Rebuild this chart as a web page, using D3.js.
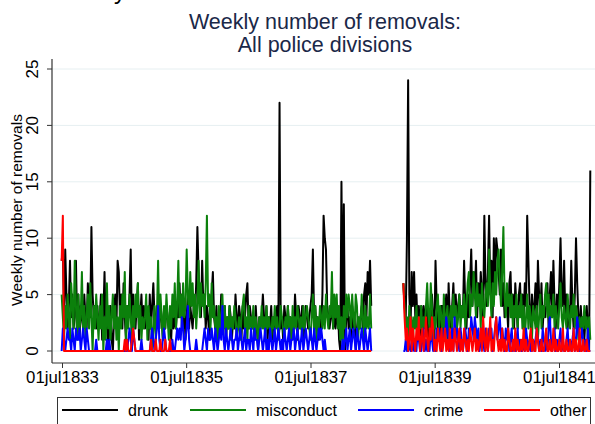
<!DOCTYPE html>
<html>
<head>
<meta charset="utf-8">
<script src="https://cdn.jsdelivr.net/npm/d3@7"></script>
<style>
  body { margin: 0; background: #fff; }
  svg { display: block; }
  text { font-family: "Liberation Sans", Arial, sans-serif; }
</style>
</head>
<body>
<div id="chart"></div>
<script>
// Weekly counts, two periods (weekly from 29jun1833 and from 29dec1838)
const start1 = new Date(1833, 5, 29);
const start2 = new Date(1838, 11, 29);

const drunk1 = [8,9,3,9,5,2,4,8,3,5, 2,3,8,2,5,1,4,3,2,5, 3,2,6,4,3,11,5,3,4,2, 4,2,3,5,1,3,7,2,3,0,
  2,4,1,0,3,5,2,8,7,3, 5,2,6,3,1,4,3,5,9,2, 5,3,2,4,6,1,3,5,2,4, 2,4,3,1,5,2,4,6,3,2,
  4,3,2,4,3,1,3,2,4,3, 2,3,1,4,2,3,2,4,3,6, 3,5,2,4,1,3,5,2,4,3, 2,4,3,6,11,7,5,3,8,4,
  5,2,4,3,1,3,5,7,3,2, 4,1,3,2,5,3,2,4,1,3, 2,4,3,1,3,2,5,3,2,4, 3,1,4,2,3,5,6,2,4,3,
  2,3,1,4,2,0,3,2,3,5, 3,2,4,1,3,2,4,1,3,2, 3,4,2,22,2,3,1,4,3,2, 4,2,3,1,3,2,5,3,1,4,
  3,2,4,1,2,4,3,2,3,4, 5,9,3,4,2,3,1,3,2,5, 12,10,9,4,3,2,3,4,2,3, 2,3,4,1,0,15,2,13,0,3,
  4,2,3,1,4,2,3,0,2,3, 2,3,4,2,5,6,3,7,5,8,4];
const misconduct1 = [5,3,1,4,2,5,3,1,6,4, 2,8,4,1,5,2,3,7,2,4, 1,3,5,2,6,3,0,4,2,5, 3,1,4,2,5,0,3,1,6,2,
  4,1,3,5,2,4,1,3,0,4, 2,5,3,7,1,4,2,5,3,1, 4,2,5,3,6,2,4,1,3,2, 3,5,1,4,2,3,0,2,4,1,
  3,8,2,5,3,1,4,2,5,3, 1,4,2,5,3,6,2,4,8,3, 5,2,6,3,4,9,5,3,7,4, 6,3,5,2,4,8,3,6,4,5,
  3,6,12,4,5,2,6,3,4,2, 3,1,4,2,3,5,2,4,1,3, 2,4,1,3,2,4,3,1,2,3, 1,3,4,5,2,3,1,4,2,3,
  2,4,1,3,2,1,3,2,4,2, 3,1,4,2,3,2,1,3,2,4, 2,3,1,2,4,3,2,1,3,2, 4,2,3,1,4,2,3,2,4,3,
  2,3,1,4,2,3,4,3,2,1, 3,5,2,4,1,3,2,4,3,2, 4,2,5,3,2,4,3,7,2,5, 3,5,2,4,1,3,0,4,2,5,
  3,5,4,2,5,3,2,5,4,1, 3,2,5,3,1,4,2,3,2,5,2];
const crime1 = [0,2,1,0,1,2,1,1,0,2, 1,0,2,1,1,2,0,1,2,1, 0,2,1,0,0,0,0,0,0,1, 0,0,0,0,0,0,0,0,1,0,
  1,0,0,0,0,0,0,0,0,0, 0,0,0,0,0,0,1,2,1,0, 2,1,0,0,0,0,0,1,0,0, 0,0,0,0,0,1,2,1,0,1,
  2,4,1,0,0,1,2,1,0,0, 0,0,0,1,0,0,1,2,1,2, 1,3,2,0,1,2,4,1,0,0, 0,0,0,1,0,0,0,0,0,1,
  2,1,0,2,1,1,2,1,0,2, 1,0,1,2,1,4,1,0,2,1, 0,1,2,1,0,1,1,2,0,1, 2,1,0,1,2,0,1,1,0,2,
  1,0,2,1,1,0,1,2,1,0, 1,2,0,1,0,2,1,0,1,2, 0,1,2,1,0,1,0,2,1,0, 1,2,0,1,1,2,0,1,2,1,
  0,1,2,0,1,2,1,0,1,2, 1,0,2,1,0,1,2,1,2,1, 0,1,0,0,0,0,0,0,0,0, 0,0,0,0,0,0,1,0,1,2,
  0,1,2,0,1,2,1,0,2,1, 0,1,2,1,0,2,1,0,1,2,0];
const other1 = [8,12,0,0,0,0,0,0,0,0, 0,0,0,0,0,0,0,0,0,0, 0,0,0,0,0,0,0,0,0,0, 0,0,0,0,0,0,0,0,0,0,
  0,0,0,0,0,0,0,0,0,0, 0,0,0,1,0,1,0,0,0,1, 2,1,0,0,0,0,0,0,0,0, 0,0,0,0,0,1,0,0,0,1,
  0,0,0,1,0,0,0,1,0,0, 0,1,0,0,0,0,0,0,0,0, 0,0,0,0,0,0,0,0,0,0, 0,0,0,0,0,0,0,0,0,0,
  0,0,0,0,0,0,0,0,0,0, 0,0,0,0,0,0,0,0,0,0, 0,0,0,0,0,0,0,0,0,0, 0,0,0,0,0,0,0,0,0,0,
  0,0,0,0,0,0,0,0,0,0, 0,0,0,0,0,0,0,0,0,0, 0,0,0,0,0,0,0,0,0,0, 0,0,0,0,0,0,0,0,0,0,
  0,0,0,0,0,0,0,0,0,0, 0,0,0,0,0,0,0,0,0,0, 0,0,0,0,0,0,0,0,0,0, 0,0,0,0,0,0,0,0,0,0,
  0,0,0,0,0,0,0,0,0,0, 0,0,0,0,0,0,0,0,0,0,0];

const drunk2 = [6,4,3,10,24,5,2,7,4,7, 3,5,2,4,1,4,2,4,3,2, 4,1,3,2,5,3,1,8,4,2, 3,1,4,4,2,3,5,1,6,3,
  2,4,6,3,5,2,4,5,3,4, 3,8,4,2,5,3,6,9,4,7, 5,8,3,6,4,7,5,3,12,6, 4,7,12,5,8,3,10,6,10,9,
  7,5,9,4,6,3,5,4,2,6, 7,3,5,2,6,4,2,5,6,3, 5,3,6,4,12,8,4,2,5,3, 4,6,2,8,5,3,6,2,4,3,
  4,6,2,5,7,3,8,4,2,5, 3,6,10,5,4,8,3,5,2,4, 3,8,4,2,5,10,6,3,2,4, 2,3,1,3,4,2,0,16];
const misconduct2 = [6,4,2,3,1,4,2,3,1,3, 2,4,1,3,2,4,1,3,2,4, 6,3,2,6,4,1,3,2,4,5, 2,4,3,1,5,2,3,4,1,3,
  4,2,5,3,4,2,3,5,2,4, 3,5,2,4,6,7,3,5,4,7, 5,3,6,4,5,2,6,4,3,5, 6,4,9,5,3,6,4,7,5,8,
  9,6,4,7,11,5,3,6,4,5, 3,5,2,4,3,5,2,4,3,5, 2,4,1,3,5,2,4,3,1,4, 3,2,4,1,3,5,2,4,3,5,
  6,3,5,2,4,3,5,2,4,3, 2,4,6,3,2,4,3,2,5,3, 2,4,3,5,2,4,3,1,3,2, 3,2,4,2,3,1,3,1];
const crime2 = [0,0,1,0,0,1,0,0,1,0, 1,0,2,1,0,0,1,2,0,1, 0,1,0,2,1,0,1,0,2,1, 2,1,0,1,2,1,3,2,1,0,
  1,2,0,3,1,2,1,0,2,1, 0,1,2,1,0,2,1,3,2,1, 3,2,1,2,0,1,2,1,0,2, 1,0,2,1,2,0,1,2,3,1,
  2,3,1,2,1,0,2,1,2,0, 1,2,0,1,0,1,2,0,1,0, 0,1,0,2,1,0,1,0,0,1, 0,1,2,1,0,1,0,2,1,0,
  1,0,2,3,1,0,1,2,0,1, 0,1,2,0,1,0,0,1,2,0, 1,0,1,2,0,1,3,2,0,1, 2,1,0,1,0,2,0,0];
const other2 = [6,3,1,2,0,1,3,0,2,1, 0,2,1,3,0,1,2,0,1,3, 1,0,2,1,3,2,0,1,0,2, 1,0,2,0,1,2,0,1,0,2,
  0,1,0,2,1,0,1,2,0,1, 0,2,1,0,1,0,2,1,0,1, 2,0,1,0,1,2,0,3,1,0, 2,0,1,3,0,1,0,2,3,1,
  0,1,0,2,0,1,0,0,2,1, 0,0,1,0,2,0,1,0,0,1, 0,2,0,1,0,0,1,2,0,1, 0,0,2,1,0,0,1,0,0,1,
  2,0,0,1,0,0,2,0,1,0, 0,1,0,0,2,0,0,1,0,0, 1,0,0,2,0,1,0,0,2,0, 0,1,0,0,1,0,0,0];

const seriesNames = ['drunk', 'misconduct', 'crime', 'other'];
const seriesColors = ['#000000', '#0b800b', '#0000ff', '#ff0000'];
const seriesPeriods = [[drunk1, drunk2], [misconduct1, misconduct2], [crime1, crime2], [other1, other2]];

const yTicks = [0, 5, 10, 15, 20, 25];
const xTickDates = [new Date(1833, 6, 1), new Date(1835, 6, 1), new Date(1837, 6, 1),
  new Date(1839, 6, 1), new Date(1841, 6, 1)];

// Layout
const width = 595, height = 424;
const plot = {left: 52, right: 595, top: 59, bottom: 363};

const svg = d3.select('#chart').append('svg')
    .attr('width', width)
    .attr('height', height);

// Scales
const xScale = d3.scaleTime()
    .domain([xTickDates[0], xTickDates[4]])
    .range([62, 559]);

const yScale = d3.scaleLinear()
    .domain([0, 25])
    .range([351, 69]);

// Title
const title = svg.append('g').attr('fill', '#1a2848')
    .attr('font-size', 21.5).attr('text-anchor', 'middle');
title.append('text').attr('x', 325).attr('y', 29).text('Weekly number of removals:');
title.append('text').attr('x', 325).attr('y', 52).text('All police divisions');

// bit of page text cut off above the figure
svg.append('text')
    .attr('x', 114).attr('y', -1)
    .attr('font-family', '"Liberation Serif", serif')
    .attr('font-size', 24)
    .text('y');

// Gridlines
svg.append('g')
    .selectAll('line')
    .data(yTicks)
    .join('line')
    .attr('x1', plot.left).attr('x2', plot.right)
    .attr('y1', d => yScale(d)).attr('y2', d => yScale(d))
    .attr('stroke', '#e6eff1')
    .attr('stroke-width', 1);

// Y axis
const yAxis = d3.axisLeft(yScale)
    .tickValues(yTicks)
    .tickSize(5)
    .tickPadding(0);

const yAxisG = svg.append('g')
    .attr('transform', `translate(${plot.left},0)`)
    .call(yAxis);
yAxisG.select('.domain').remove();
yAxisG.selectAll('line').attr('stroke', '#333');
yAxisG.selectAll('text')
    .attr('font-size', 17)
    .attr('fill', '#000')
    .attr('text-anchor', 'middle')
    .attr('transform', d => `translate(-20,${yScale(d)}) rotate(-90)`)
    .attr('x', 0).attr('y', 0).attr('dy', '0.35em');
yAxisG.selectAll('.tick').attr('transform', null);
yAxisG.selectAll('.tick line')
    .attr('y1', d => yScale(d)).attr('y2', d => yScale(d));

svg.append('line')
    .attr('x1', plot.left).attr('x2', plot.left)
    .attr('y1', plot.top).attr('y2', plot.bottom)
    .attr('stroke', '#333').attr('stroke-width', 1.2);

svg.append('text')
    .attr('transform', `translate(17,${(plot.top + plot.bottom) / 2 - 1}) rotate(-90)`)
    .attr('text-anchor', 'middle')
    .attr('dy', '0.35em')
    .attr('font-size', 15.5)
    .text('Weekly number of removals');

// X axis
const fmtDate = d3.timeFormat('%d');
const months = ['jan','feb','mar','apr','may','jun','jul','aug','sep','oct','nov','dec'];
const xAxis = d3.axisBottom(xScale)
    .tickValues(xTickDates)
    .tickFormat(d => fmtDate(d) + months[d.getMonth()] + d.getFullYear())
    .tickSize(5)
    .tickPadding(3);

const xAxisG = svg.append('g')
    .attr('transform', `translate(0,${plot.bottom})`)
    .call(xAxis);
xAxisG.select('.domain').remove();
xAxisG.selectAll('line').attr('stroke', '#333');
xAxisG.selectAll('text').attr('font-size', 16.8).attr('fill', '#000');

svg.append('line')
    .attr('x1', plot.left).attr('x2', plot.right)
    .attr('y1', plot.bottom).attr('y2', plot.bottom)
    .attr('stroke', '#333').attr('stroke-width', 1.2);

// Lines
const line = d3.line()
    .x(d => xScale(d.date))
    .y(d => yScale(d.value));

const toPoints = (values, start) =>
  values.map((v, i) => ({date: d3.timeDay.offset(start, 7 * i), value: v}));

const linesG = svg.append('g')
    .attr('fill', 'none')
    .attr('stroke-width', 2)
    .attr('stroke-linejoin', 'round');

seriesNames.forEach((name, i) => {
  const periods = seriesPeriods[i];
  [toPoints(periods[0], start1), toPoints(periods[1], start2)].forEach(pts => {
    linesG.append('path')
        .datum(pts)
        .attr('class', 'line ' + name)
        .attr('stroke', seriesColors[i])
        .attr('d', line);
  });
});

// Legend
const legend = svg.append('g');
legend.append('rect')
    .attr('x', 57.5).attr('y', 397.5)
    .attr('width', 533).attr('height', 40)
    .attr('fill', '#fff')
    .attr('stroke', '#333');

const legendX = [62, 190, 358, 484];
const legendItems = legend.selectAll('.item')
    .data(seriesNames)
    .join('g')
    .attr('class', 'item')
    .attr('transform', (d, i) => `translate(${legendX[i]},410)`);

legendItems.append('line')
    .attr('x1', 0).attr('x2', 56)
    .attr('stroke', (d, i) => seriesColors[i])
    .attr('stroke-width', 2);

legendItems.append('text')
    .attr('x', 66).attr('dy', '0.35em')
    .attr('font-size', 16)
    .text(d => d);
</script>
</body>
</html>
